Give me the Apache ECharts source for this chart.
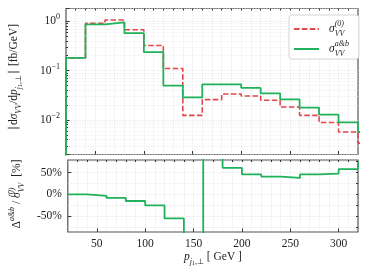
<!DOCTYPE html>
<html><head><meta charset="utf-8">
<script src="https://cdn.jsdelivr.net/npm/echarts@6/dist/echarts.min.js"></script>
<style>html,body{margin:0;padding:0;background:#fff}#c{width:368px;height:273px}</style>
</head><body><div id="c"></div>
<script>
// ---- data ----
const binStart = [0, 20, 40, 60, 80, 100, 120, 140, 160, 180, 200, 220, 240, 260, 280, 300, 320];
const binWidth = 20;
const sigmaLO = [0.001, 0.18, 0.90, 1.05, 0.67, 0.32, 0.11, 0.0124, 0.0258, 0.0336, 0.0305, 0.025, 0.0183, 0.0124, 0.0089, 0.0057, 0.0034];
const sigmaAB = [0.001, 0.18, 0.857, 0.94, 0.57, 0.235, 0.0497, 0.0287, 0.0527, 0.0527, 0.0444, 0.0346, 0.0262, 0.0178, 0.0128, 0.0089, 0.0057];
const ratioPct = [null, 0, -3, -8, -15, -25, -55, -331, 104, 61, 46, 41, 38, 46, 48, 58, 72];
const xTickLabels = [50, 100, 150, 200, 250, 300];
const xMinorTicks = [30, 40, 50, 60, 70, 80, 90, 100, 110, 120, 130, 140, 150, 160, 170, 180, 190, 200, 210, 220, 230, 240, 250, 260, 270, 280, 290, 300, 310];
const pctTickLabels = [-50, 0, 50];
const pctMinorTicks = [-75, -50, -25, 0, 25, 50, 75];
const seriesNames = ['sigma0', 'sigmaab'];

const RED = '#e0474c', GREEN = '#1fb25a';
const FONT = 'Liberation Serif';

function stepData(vals) {
  const d = binStart.map((x, i) => [x, vals[i]]);
  d.push([binStart[binStart.length - 1] + binWidth, vals[vals.length - 1]]);
  return d;
}

const rich = {
  n: { fontFamily: FONT, fontSize: 11.5, color: '#222', lineHeight: 18 },
  i: { fontFamily: FONT, fontSize: 11.5, fontStyle: 'italic', color: '#222', lineHeight: 18 },
  sup: { fontFamily: FONT, fontSize: 8, fontStyle: 'italic', color: '#222', verticalAlign: 'top', lineHeight: 9 },
  sup0: { fontFamily: FONT, fontSize: 8, fontStyle: 'italic', color: '#222', verticalAlign: 'top', lineHeight: 9, width: 0 },
  supn: { fontFamily: FONT, fontSize: 8, color: '#222', verticalAlign: 'top', lineHeight: 9 },
  sub: { fontFamily: FONT, fontSize: 8, fontStyle: 'italic', color: '#222', verticalAlign: 'bottom', lineHeight: 9 },
  subn: { fontFamily: FONT, fontSize: 8, color: '#222', verticalAlign: 'bottom', lineHeight: 9 },
  subsub: { fontFamily: FONT, fontSize: 6, color: '#222', verticalAlign: 'bottom', lineHeight: 6 },
  sp: { width: 5 }
};

const gridLine = { show: true, lineStyle: { color: '#e4e4e4', width: 0.8, type: 'dotted' } };
const tickStyle = { color: '#333', width: 1 };
const noLine = { show: false, onZero: false };

const labelMap = {
  sigma0: '{sp|}{i|σ}{sup0|(0)}{sub|VV}',
  sigmaab: '{sp|}{i|σ}{sup0|a&b}{sub|VV}'
};

const option = {
  animation: false,
  backgroundColor: '#fff',
  grid: [
    { left: 58, top: 8.5, width: 300, height: 146, show: true, borderColor: '#555', borderWidth: 1.2, backgroundColor: 'transparent' },
    { left: 58, top: 160, width: 300, height: 72, show: true, borderColor: '#555', borderWidth: 1.2, backgroundColor: 'transparent' }
  ],
  legend: {
    orient: 'vertical', left: 289, top: 15,
    data: seriesNames,
    itemWidth: 25, itemHeight: 10, itemGap: 2,
    padding: [5, 10, 1, 4],
    borderColor: '#d4d4d4', borderWidth: 1, borderRadius: 3,
    backgroundColor: '#fff',
    itemStyle: { color: 'rgba(0,0,0,0)', borderWidth: 0, opacity: 0 },
    formatter: name => labelMap[name],
    textStyle: { rich: rich }
  },
  xAxis: [
    { type: 'value', gridIndex: 0, min: 20, max: 320,
      axisLine: noLine, axisLabel: { show: false },
      axisTick: { show: true, inside: true, length: 3.5, customValues: xTickLabels, lineStyle: tickStyle },
      splitLine: { show: false } },
    { type: 'value', gridIndex: 0, min: 20, max: 320, interval: 10,
      axisLine: noLine, axisLabel: { show: false },
      axisTick: { show: true, inside: true, length: 2, customValues: xMinorTicks, lineStyle: tickStyle },
      splitLine: gridLine },
    { type: 'value', gridIndex: 1, min: 20, max: 320,
      axisLine: noLine,
      axisLabel: { show: true, customValues: xTickLabels, margin: 6, fontFamily: FONT, fontSize: 11.5, color: '#222' },
      axisTick: { show: true, inside: true, length: 3.5, customValues: xTickLabels, lineStyle: tickStyle },
      splitLine: { show: false },
      name: '{i|p}{sub|j}{subsub|1}{subn|,⊥}{n| [ GeV ]}',
      nameLocation: 'middle', nameGap: 16,
      nameTextStyle: { rich: rich } },
    { type: 'value', gridIndex: 1, min: 20, max: 320, interval: 10,
      axisLine: noLine, axisLabel: { show: false },
      axisTick: { show: true, inside: true, length: 2, customValues: xMinorTicks, lineStyle: tickStyle },
      splitLine: gridLine }
  ],
  yAxis: [
    { type: 'log', gridIndex: 0, logBase: 10, min: 0.002, max: 1.8,
      axisLine: noLine,
      axisTick: { show: true, inside: true, length: 3.5, lineStyle: tickStyle },
      minorTick: { show: true, splitNumber: 9, length: 2, lineStyle: tickStyle },
      splitLine: gridLine,
      minorSplitLine: { show: true, lineStyle: { color: '#ececec', width: 0.8, type: 'dotted' } },
      axisLabel: {
        margin: 6,
        formatter: function (v) {
          const e = Math.log10(v);
          if (Math.abs(e - Math.round(e)) > 1e-6) return '';
          const r = Math.round(e);
          return '{b|10}{e|' + (r < 0 ? '−' + (-r) : r) + '}';
        },
        rich: {
          b: { fontFamily: FONT, fontSize: 11.5, color: '#222', lineHeight: 16 },
          e: { fontFamily: FONT, fontSize: 8, color: '#222', verticalAlign: 'top', lineHeight: 8 }
        }
      },
      name: '{n|∣d}{i|σ}{sub|VV}{n|/d}{i|p}{sub|j}{subsub|1}{subn|,⊥}{n|∣ [fb/GeV]}',
      nameLocation: 'middle', nameGap: 43, nameRotate: 90,
      nameTextStyle: { rich: rich, padding: [0, 0, 0, 8] } },
    { type: 'value', gridIndex: 1, min: -86, max: 79,
      axisLine: noLine,
      axisTick: { show: true, inside: true, length: 3.5, customValues: pctTickLabels, lineStyle: tickStyle },
      splitLine: { show: false },
      axisLabel: { show: true, customValues: pctTickLabels, margin: 6, fontFamily: FONT, fontSize: 11.5, color: '#222',
        formatter: v => v + '%' },
      name: '{n|Δ}{sup|a&b}{n| / }{i|σ}{sup0|(0)}{sub|VV}{n|  [%]}',
      nameLocation: 'middle', nameGap: 38, nameRotate: 90,
      nameTextStyle: { rich: rich, padding: [0, 0, 0, 4] } },
    { type: 'value', gridIndex: 1, min: -86, max: 79,
      axisLine: noLine, axisLabel: { show: false },
      axisTick: { show: true, inside: true, length: 2, customValues: pctMinorTicks, lineStyle: tickStyle },
      splitLine: gridLine }
  ],
  series: [
    { name: 'sigma0', type: 'line', xAxisIndex: 0, yAxisIndex: 0, step: 'end', symbol: 'none',
      data: stepData(sigmaLO), lineStyle: { color: RED, width: 1.6, type: [5.5, 2.4] }, itemStyle: { color: RED } },
    { name: 'sigmaab', type: 'line', xAxisIndex: 0, yAxisIndex: 0, step: 'end', symbol: 'none',
      data: stepData(sigmaAB), lineStyle: { color: GREEN, width: 1.8 }, itemStyle: { color: GREEN } },
    { name: 'ratio', type: 'line', xAxisIndex: 2, yAxisIndex: 1, step: 'end', symbol: 'none',
      data: stepData(ratioPct), lineStyle: { color: GREEN, width: 1.8 }, itemStyle: { color: GREEN } }
  ]
};

const chart = echarts.init(document.getElementById('c'), null, { renderer: 'canvas' });
chart.setOption(option);
</script>
</body></html>
